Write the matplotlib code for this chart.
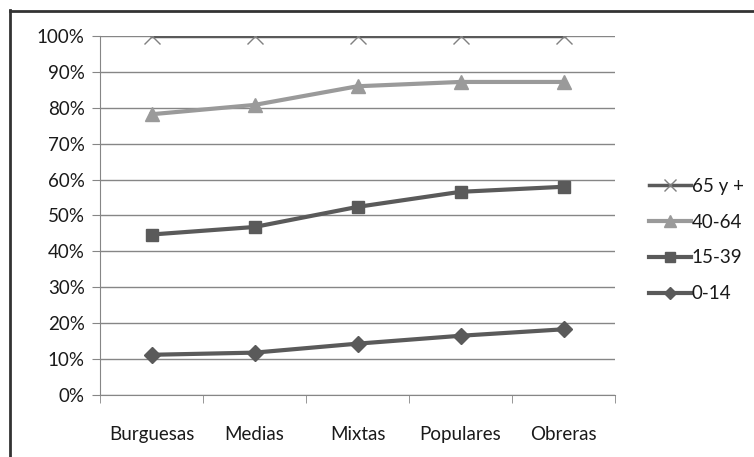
import matplotlib.pyplot as plt
from matplotlib.lines import Line2D

plt.rcParams['font.family'] = ['Lato', 'DejaVu Sans']

categorias = ['Burguesas', 'Medias', 'Mixtas', 'Populares', 'Obreras']
edad_65 = [100, 100, 100, 100, 100]
edad_40_64 = [78.2, 80.8, 86.0, 87.2, 87.2]
edad_15_39 = [44.7, 46.8, 52.4, 56.6, 58.0]
edad_0_14 = [11.2, 11.8, 14.3, 16.5, 18.3]

oscuro = '#5a5a5a'
claro = '#9a9a9a'

fig = plt.figure(figsize=(7.54, 4.57), dpi=100)
ax = fig.add_axes([100 / 754, 62 / 457, 515 / 754, 359 / 457])

x = range(len(categorias))
ax.plot(x, edad_65, color=oscuro, lw=2.5, marker='x', ms=11, mec='#808080', mew=1.0,
        label='65 y +', zorder=5)
ax.plot(x, edad_40_64, color=claro, lw=3, marker='^', ms=10, mfc=claro, mec=claro,
        label='40-64', zorder=4)
ax.plot(x, edad_15_39, color=oscuro, lw=3, marker='s', ms=9, mfc=oscuro, mec=oscuro,
        label='15-39', zorder=4)
ax.plot(x, edad_0_14, color=oscuro, lw=3, marker='D', ms=8, mfc=oscuro, mec=oscuro,
        label='0-14', zorder=4)

ax.set_xlim(-0.5, 4.5)
ax.set_ylim(0, 100)
ax.set_yticks(range(0, 101, 10))
ax.set_yticklabels([f'{v}%' for v in range(0, 101, 10)])
ax.set_xticks(list(x))
ax.set_xticklabels(categorias)
ax.set_xticks([i - 0.5 for i in range(len(categorias) + 1)], minor=True)
ax.tick_params(axis='x', which='major', length=0, pad=22, labelsize=13.5, labelcolor='#1a1a1a')
ax.tick_params(axis='x', which='minor', length=6, color='#868686')
ax.tick_params(axis='y', length=6, color='#868686', pad=5, labelsize=13.5, labelcolor='#1a1a1a')
ax.grid(axis='y', color='#868686', lw=1)
ax.set_axisbelow(True)
for s in ['top', 'right']:
    ax.spines[s].set_visible(False)
ax.spines['left'].set_color('#868686')
ax.spines['bottom'].set_color('#868686')

ax.legend(loc='center left', bbox_to_anchor=(641 / 754, 217 / 457), bbox_transform=fig.transFigure,
          frameon=False, fontsize=13.5, handlelength=2.25, handletextpad=0.05,
          labelspacing=1.0, borderaxespad=0, markerscale=0.8, labelcolor='#1a1a1a')

# marco exterior
fig.add_artist(Line2D([10 / 754, 10 / 754], [0, 1 - 10 / 457], transform=fig.transFigure,
                      color='#333333', lw=2))
fig.add_artist(Line2D([10 / 754, 1], [1 - 11 / 457, 1 - 11 / 457], transform=fig.transFigure,
                      color='#333333', lw=2))

fig.savefig('out.png', dpi=100)
